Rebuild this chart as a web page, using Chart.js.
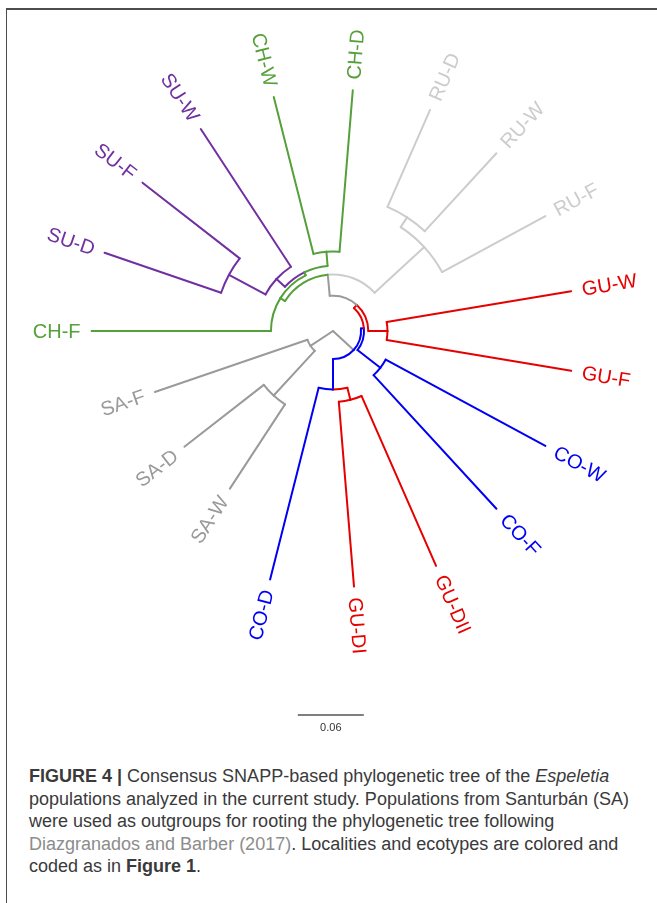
<!DOCTYPE html>
<html>
<head>
<meta charset="utf-8">
<script src="https://cdn.jsdelivr.net/npm/chart.js@4.4.1/dist/chart.umd.min.js"></script>
<style>
  html, body { margin: 0; padding: 0; background: #fff; width: 657px; height: 903px; overflow: hidden; }
  #frame { position: absolute; left: 6px; top: 8px; width: 700px; height: 950px;
           border-top: 2px solid #4d4d4d; border-left: 1px solid #4d4d4d; }
  #wrap { position: absolute; left: 0; top: 0; width: 657px; height: 745px; }
  #caption { position: absolute; left: 29px; top: 765px; font-family: "Liberation Sans", Arial, sans-serif;
             font-size: 18px; line-height: 22.5px; color: #3a3a3a; white-space: nowrap; }
  #caption .ref { color: #8c8c8c; }
</style>
</head>
<body>
<div id="frame"></div>
<div id="wrap"><canvas id="tree"></canvas></div>
<div id="caption">
  <div><b>FIGURE 4 |</b> Consensus SNAPP-based phylogenetic tree of the <i>Espeletia</i></div>
  <div>populations analyzed in the current study. Populations from Santurbán (SA)</div>
  <div>were used as outgroups for rooting the phylogenetic tree following</div>
  <div><span class="ref">Diazgranados and Barber (2017)</span>. Localities and ecotypes are colored and</div>
  <div>coded as in <b>Figure 1</b>.</div>
</div>
<script>
// ---- データ（角度: 度, 反時計回り / 半径: 枝長単位）----
// 末端（個体群）
const tipNames   = ['CH-F', 'SU-D', 'SU-F', 'SU-W', 'CH-W', 'CH-D', 'RU-D', 'RU-W', 'RU-F', 'GU-W',
                    'GU-F', 'CO-W', 'CO-F', 'GU-DII', 'GU-DI', 'CO-D', 'SA-W', 'SA-D', 'SA-F'];
const tipAngles  = [180, 161.1, 142.1, 123.2, 104.2, 85.3, 66.3, 47.4, 28.4, 9.5,
                    -9.5, -28.4, -47.4, -66.3, -85.3, -104.2, -123.2, -142.1, -161.1];
const tipRadii   = [0.2195, 0.2195, 0.2195, 0.2195, 0.2195, 0.2195, 0.2195, 0.2195, 0.2195, 0.2195,
                    0.2195, 0.2195, 0.2195, 0.2331, 0.2331, 0.2331, 0.1712, 0.1712, 0.1712];
const tipParents = ['CHSU', 'SUDF', 'SUDF', 'SU', 'CHWD', 'CHWD', 'RUDW', 'RUDW', 'RU', 'GUWF',
                    'GUWF', 'COWF', 'COWF', 'GUD', 'GUD', 'CODGUD', 'SADW', 'SADW', 'SA'];
const tipGroups  = ['CH', 'SU', 'SU', 'SU', 'CH', 'CH', 'RU', 'RU', 'RU', 'GU',
                    'GU', 'CO', 'CO', 'GU', 'GU', 'CO', 'SA', 'SA', 'SA'];

// 内部ノード
const nodeNames   = ['ROOT', 'SA', 'SADW', 'IN', 'CODGUD', 'GUD', 'Q', 'COWF', 'S', 'GUWF',
                     'X2', 'RU', 'RUDW', 'CHSU', 'SUCH', 'SU', 'SUDF', 'CHWD'];
const nodeParents = [null, 'ROOT', 'SA', 'ROOT', 'IN', 'CODGUD', 'IN', 'Q', 'Q', 'S',
                     'S', 'X2', 'RU', 'X2', 'CHSU', 'SUCH', 'SU', 'SUCH'];
const nodeAngles  = [0, -146.7, -132.6, -42.6, -90, -75.8, 4.9, -37.9, 47.6, 0,
                     95.3, 42.6, 56.9, 148, 116.1, 137.4, 151.6, 94.75];
const nodeRadii   = [0, 0.0245, 0.0797, 0.0255, 0.0532, 0.0645, 0.0282, 0.0545, 0.0321, 0.0495,
                     0.0514, 0.1127, 0.1233, 0.0564, 0.0594, 0.0698, 0.1075, 0.0723];
const nodeGroups  = ['SA', 'SA', 'SA', 'SA', 'CO', 'GU', 'CO', 'CO', 'GU', 'GU',
                     'SA', 'RU', 'RU', 'CH', 'CH', 'SU', 'SU', 'CH'];

const scaleBarLength = 0.06;

// 色（産地ごと）
const palette = { CH: '#55a03a', SU: '#7030a0', RU: '#cccccc', GU: '#e60000', CO: '#0000f5', SA: '#9a9a9a' };

// ---- ツリー構築 ----
const nodes = {};
nodeNames.forEach((n, i) => {
  nodes[n] = { name: n, parent: nodeParents[i], angle: nodeAngles[i], r: nodeRadii[i], group: nodeGroups[i], tip: false };
});
tipNames.forEach((n, i) => {
  nodes[n] = { name: n, parent: tipParents[i], angle: tipAngles[i], r: tipRadii[i], group: tipGroups[i], tip: true };
});

const rad = (d) => d * Math.PI / 180;
const polar = (r, a) => ({ x: r * Math.cos(rad(a)), y: r * Math.sin(rad(a)) });

// 放射方向の枝（親の半径 → 自分の半径）
const datasets = [];
Object.values(nodes).forEach((nd) => {
  if (!nd.parent) return;
  const p = nodes[nd.parent];
  datasets.push({
    data: [polar(p.r, nd.angle), polar(nd.r, nd.angle)],
    showLine: true,
    borderColor: palette[nd.group],
    borderWidth: 2,
    pointRadius: 0,
    borderCapStyle: 'round',
  });
});

// 円弧・ラベル・スケールバーを描くプラグイン
const treeDecor = {
  id: 'treeDecor',
  afterDatasetsDraw(chart) {
    const { ctx, scales: { x, y } } = chart;
    const cx = x.getPixelForValue(0);
    const cy = y.getPixelForValue(0);
    const px = (r) => x.getPixelForValue(r) - cx;

    ctx.save();
    ctx.lineWidth = 2;
    ctx.lineCap = 'round';
    // 円弧: 親の半径上で、子の角度から親の角度まで
    Object.values(nodes).forEach((nd) => {
      if (!nd.parent) return;
      const p = nodes[nd.parent];
      if (p.r <= 0 || nd.angle === p.angle) return;
      ctx.strokeStyle = palette[nd.group];
      ctx.beginPath();
      ctx.arc(cx, cy, px(p.r), -rad(nd.angle), -rad(p.angle), p.angle > nd.angle);
      ctx.stroke();
    });

    // 末端ラベル
    ctx.font = '20px "Liberation Sans", Arial, sans-serif';
    ctx.textBaseline = 'middle';
    Object.values(nodes).forEach((nd) => {
      if (!nd.tip) return;
      const a = nd.angle;
      const dist = px(nd.r) + 11;
      const tx = cx + dist * Math.cos(rad(a));
      const ty = cy - dist * Math.sin(rad(a));
      const left = (a > 90 || a < -90);
      ctx.save();
      ctx.translate(tx, ty);
      ctx.rotate(left ? rad(180 - a) : -rad(a));
      ctx.textAlign = left ? 'right' : 'left';
      ctx.fillStyle = palette[nd.group];
      ctx.fillText(nd.name, 0, 1);
      ctx.restore();
    });

    // スケールバー
    const barCx = x.getPixelForValue(-0.002);
    const barY = y.getPixelForValue(-0.349);
    const half = px(scaleBarLength) / 2;
    ctx.strokeStyle = '#555';
    ctx.lineWidth = 1.5;
    ctx.lineCap = 'butt';
    ctx.beginPath();
    ctx.moveTo(barCx - half, barY);
    ctx.lineTo(barCx + half, barY);
    ctx.stroke();
    ctx.fillStyle = '#333';
    ctx.font = '11px "Liberation Sans", Arial, sans-serif';
    ctx.textAlign = 'center';
    ctx.fillText(String(scaleBarLength), barCx, barY + 13);
    ctx.restore();
  }
};

new Chart(document.getElementById('tree'), {
  type: 'scatter',
  data: { datasets },
  options: {
    responsive: true,
    maintainAspectRatio: false,
    animation: false,
    layout: { padding: 0 },
    plugins: { legend: { display: false }, tooltip: { enabled: false } },
    scales: {
      x: { type: 'linear', min: -0.30273, max: 0.29455, display: false },
      y: { type: 'linear', min: -0.37636, max: 0.30091, display: false },
    },
  },
  plugins: [treeDecor],
});
</script>
</body>
</html>
